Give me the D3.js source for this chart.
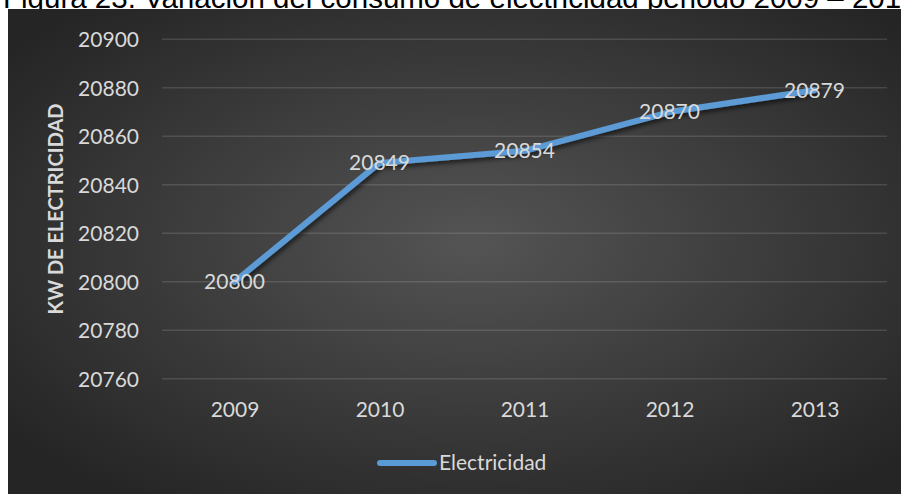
<!DOCTYPE html>
<html>
<head>
<meta charset="utf-8">
<script src="https://cdn.jsdelivr.net/npm/d3@7"></script>
<style>
  html, body { margin: 0; padding: 0; background: #ffffff; }
  svg { display: block; }
</style>
</head>
<body>
<svg id="chart" width="901" height="494"></svg>
<script>
// Consumo anual de electricidad (kW), 2009–2013
const years = ["2009", "2010", "2011", "2012", "2013"];
const electricidad = [20800, 20849, 20854, 20870, 20879];
const yTicks = [20760, 20780, 20800, 20820, 20840, 20860, 20880, 20900];
const seriesName = "Electricidad";
const yTitle = "KW DE ELECTRICIDAD";
const figTitle = "Figura 23. Variación del consumo de electricidad periodo 2009 – 2013";

const W = 901, H = 494;
const svg = d3.select("#chart");
const defs = svg.append("defs");

// dark radial background
const grad = defs.append("radialGradient")
  .attr("id", "bg").attr("cx", "52%").attr("cy", "48%").attr("r", "65%");
grad.append("stop").attr("offset", "0%").attr("stop-color", "#545454");
grad.append("stop").attr("offset", "100%").attr("stop-color", "#252525");

// soft shadow beneath the series line
const sh = defs.append("filter").attr("id", "shadow")
  .attr("x", "-10%").attr("y", "-10%").attr("width", "120%").attr("height", "130%");
sh.append("feDropShadow").attr("dx", 2).attr("dy", 3).attr("stdDeviation", 2.2)
  .attr("flood-color", "#000").attr("flood-opacity", 0.55);

// figure caption above the chart box
svg.append("text")
  .attr("x", 3).attr("y", 8)
  .attr("font-family", "Liberation Sans, Arial, sans-serif")
  .attr("font-size", 29.5)
  .attr("fill", "#000")
  .text(figTitle);

// chart box
svg.append("rect")
  .attr("x", 8).attr("y", 9).attr("width", W - 8).attr("height", H - 9)
  .attr("fill", "url(#bg)");

const plot = { left: 162, right: 887, top: 39.3, bottom: 378.7 };
const font = "Lato, 'Open Sans', sans-serif";
const textColor = "#d9d9d9";
const fs = 21;

const x = d3.scalePoint().domain(years).range([plot.left, plot.right]).padding(0.5);
const y = d3.scaleLinear().domain([20760, 20900]).range([plot.bottom, plot.top]);

// horizontal gridlines
svg.append("g").selectAll("line").data(yTicks).join("line")
  .attr("x1", plot.left).attr("x2", plot.right)
  .attr("y1", d => y(d)).attr("y2", d => y(d))
  .attr("stroke", "rgba(255,255,255,0.13)").attr("stroke-width", 1.5);

// y axis labels
const yAxis = svg.append("g")
  .attr("transform", `translate(${plot.left - 23},0)`)
  .call(d3.axisLeft(y).tickValues(yTicks).tickSize(0).tickPadding(0).tickFormat(d3.format("d")));
yAxis.select(".domain").remove();
yAxis.selectAll("text")
  .attr("font-family", font).attr("font-size", fs).attr("fill", textColor)
  .attr("dy", "0.35em");

// x axis labels
const xAxis = svg.append("g")
  .attr("transform", `translate(0,${plot.bottom})`)
  .call(d3.axisBottom(x).tickSize(0).tickPadding(0));
xAxis.select(".domain").remove();
xAxis.selectAll("text")
  .attr("font-family", font).attr("font-size", fs).attr("fill", textColor)
  .attr("y", 38.5).attr("dy", 0);

// y axis title
svg.append("text")
  .attr("transform", `translate(63,${(plot.top + plot.bottom) / 2}) rotate(-90)`)
  .attr("text-anchor", "middle")
  .attr("font-family", font).attr("font-weight", 700).attr("font-size", 20)
  .attr("fill", textColor)
  .text(yTitle);

// series line
const data = years.map((yr, i) => ({ year: yr, value: electricidad[i] }));
const line = d3.line().x(d => x(d.year)).y(d => y(d.value));
svg.append("path")
  .datum(data)
  .attr("d", line)
  .attr("fill", "none")
  .attr("stroke", "#5b9bd5")
  .attr("stroke-width", 6)
  .attr("stroke-linecap", "round")
  .attr("stroke-linejoin", "round")
  .attr("filter", "url(#shadow)");

// value labels centred on each point
svg.append("g").selectAll("text").data(data).join("text")
  .attr("x", d => x(d.year)).attr("y", d => y(d.value))
  .attr("dy", "0.35em")
  .attr("text-anchor", "middle")
  .attr("font-family", font).attr("font-size", fs).attr("fill", textColor)
  .text(d => d.value);

// legend
const lg = svg.append("g");
lg.append("line")
  .attr("x1", 380).attr("x2", 434).attr("y1", 463).attr("y2", 463)
  .attr("stroke", "#5b9bd5").attr("stroke-width", 6).attr("stroke-linecap", "round");
lg.append("text")
  .attr("x", 439).attr("y", 470)
  .attr("font-family", font).attr("font-size", fs).attr("fill", textColor)
  .text(seriesName);
</script>
</body>
</html>
